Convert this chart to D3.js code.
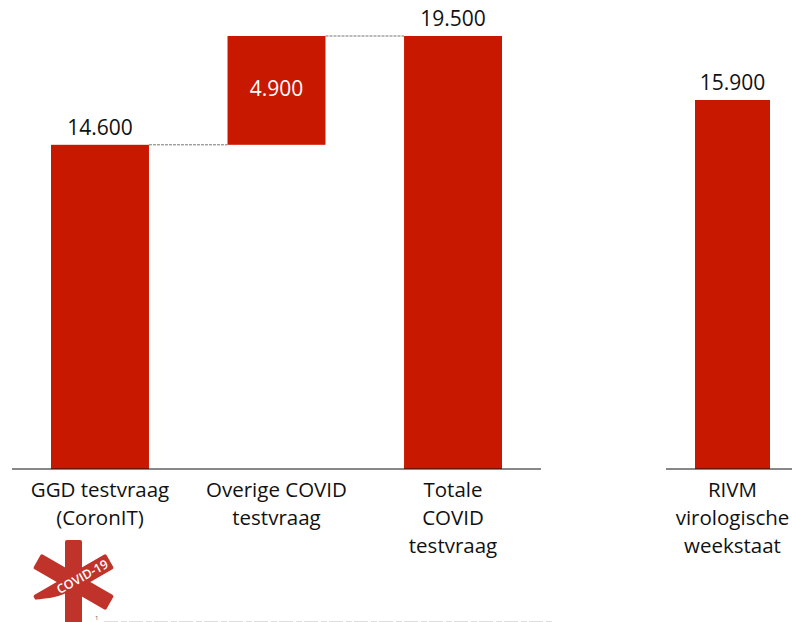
<!DOCTYPE html>
<html>
<head>
<meta charset="utf-8">
<script src="https://cdn.jsdelivr.net/npm/d3@7"></script>
<style>
html, body { margin: 0; padding: 0; background: #fff; overflow: hidden; }
text { font-family: "Open Sans", sans-serif; }
</style>
</head>
<body>
<div id="viz"></div>
<script>
// chart values
var categories = ["GGD testvraag (CoronIT)", "Overige COVID testvraag", "Totale COVID testvraag"];
var categoryLines = [["GGD testvraag", "(CoronIT)"], ["Overige COVID", "testvraag"], ["Totale", "COVID", "testvraag"]];
var barStart = [0, 14600, 0];
var barEnd = [14600, 19500, 19500];
var barLabels = ["14.600", "4.900", "19.500"];

var rivmCategory = ["RIVM virologische weekstaat"];
var rivmLines = [["RIVM", "virologische", "weekstaat"]];
var rivmValue = [15900];
var rivmLabels = ["15.900"];

var RED = "#c91800";
var width = 792, height = 622;

var svg = d3.select("#viz").append("svg")
	.attr("width", width)
	.attr("height", height)
	.style("display", "block");

// left panel: waterfall
var x = d3.scaleBand().domain(categories).range([51, 502]).paddingInner(0.445);
var y = d3.scaleLinear().domain([0, 19500]).range([469, 36]);

// right panel has its own drawn scale in the original
var x2 = d3.scaleBand().domain(rivmCategory).range([695, 770]);
var y2 = d3.scaleLinear().domain([0, 15900]).range([469, 100]);

// dashed connectors between the steps
svg.selectAll(".connector").data(d3.range(categories.length - 1)).enter().append("line")
	.attr("class", "connector")
	.attr("x1", function (i) { return x(categories[i]) + x.bandwidth(); })
	.attr("x2", function (i) { return x(categories[i + 1]); })
	.attr("y1", function (i) { return y(barEnd[i]); })
	.attr("y2", function (i) { return y(barEnd[i]); })
	.attr("stroke", "#777")
	.attr("stroke-width", 1)
	.attr("stroke-dasharray", "3 1");

svg.selectAll(".bar").data(categories).enter().append("rect")
	.attr("class", "bar")
	.attr("x", function (d) { return x(d); })
	.attr("width", x.bandwidth())
	.attr("y", function (d, i) { return y(barEnd[i]); })
	.attr("height", function (d, i) { return y(barStart[i]) - y(barEnd[i]); })
	.attr("fill", RED);

svg.selectAll(".rivm").data(rivmCategory).enter().append("rect")
	.attr("class", "rivm")
	.attr("x", function (d) { return x2(d); })
	.attr("width", x2.bandwidth())
	.attr("y", function (d, i) { return y2(rivmValue[i]); })
	.attr("height", function (d, i) { return y2(0) - y2(rivmValue[i]); })
	.attr("fill", RED);

// value labels: the floating bar has its label inside, in white
svg.selectAll(".value").data(categories).enter().append("text")
	.attr("class", "value")
	.attr("x", function (d) { return x(d) + x.bandwidth() / 2; })
	.attr("y", function (d, i) {
		return barStart[i] > 0 ? (y(barStart[i]) + y(barEnd[i])) / 2 + 6 : y(barEnd[i]) - 10;
	})
	.attr("text-anchor", "middle")
	.attr("font-size", 21)
	.attr("fill", function (d, i) { return barStart[i] > 0 ? "#fff" : "#111"; })
	.text(function (d, i) { return barLabels[i]; });

svg.selectAll(".rivm-value").data(rivmCategory).enter().append("text")
	.attr("class", "rivm-value")
	.attr("x", function (d) { return x2(d) + x2.bandwidth() / 2; })
	.attr("y", function (d, i) { return y2(rivmValue[i]) - 10; })
	.attr("text-anchor", "middle")
	.attr("font-size", 21)
	.attr("fill", "#111")
	.text(function (d, i) { return rivmLabels[i]; });

// baselines and category labels
function baseline(x1, x2end) {
	svg.append("line")
		.attr("x1", x1).attr("x2", x2end)
		.attr("y1", y(0)).attr("y2", y(0))
		.attr("stroke", "#111").attr("stroke-width", 1);
}
baseline(12, 541);
baseline(666, 792);

function catLabel(lines, cx) {
	var t = svg.append("text")
		.attr("text-anchor", "middle")
		.attr("font-size", 20.5)
		.attr("fill", "#111");
	lines.forEach(function (l, i) {
		t.append("tspan").attr("x", cx).attr("y", 497 + i * 28).text(l);
	});
}
categories.forEach(function (c, i) { catLabel(categoryLines[i], x(c) + x.bandwidth() / 2); });
rivmCategory.forEach(function (c, i) { catLabel(rivmLines[i], x2(c) + x2.bandwidth() / 2); });

// COVID-19 logo: three crossed strokes with a white lettered band
var logo = svg.append("g").attr("transform", "translate(73.5,582)");
[0, 60, 120].forEach(function (a) {
	logo.append("rect")
		.attr("x", -8.5).attr("y", -42)
		.attr("width", 17).attr("height", 84)
		.attr("rx", 2)
		.attr("fill", "#c0332b")
		.attr("transform", "rotate(" + a + ")");
});
// the lower left arm is cut off by a white swoosh under the lettering
logo.append("path")
	.attr("d", "M-46,18 Q-20,17 -8.5,11.5 L-8.5,30 L-46,30 Z")
	.attr("fill", "#fff");
logo.append("text")
	.attr("transform", "translate(11,-1.5) rotate(-29)")
	.attr("text-anchor", "middle")
	.attr("font-size", 12.5)
	.attr("font-weight", 600)
	.attr("fill", "#fff")
	.text("COVID-19");

// footnote: only the marker and the tops of the letters are left at the cut-off edge
svg.append("text")
	.attr("x", 95).attr("y", 620)
	.attr("font-size", 6)
	.attr("fill", "#555")
	.text("1");
svg.append("line")
	.attr("x1", 104).attr("x2", 553)
	.attr("y1", 621.5).attr("y2", 621.5)
	.attr("stroke", "#ddd")
	.attr("stroke-width", 1)
	.attr("stroke-dasharray", "14 3 6 2");
</script>
</body>
</html>
